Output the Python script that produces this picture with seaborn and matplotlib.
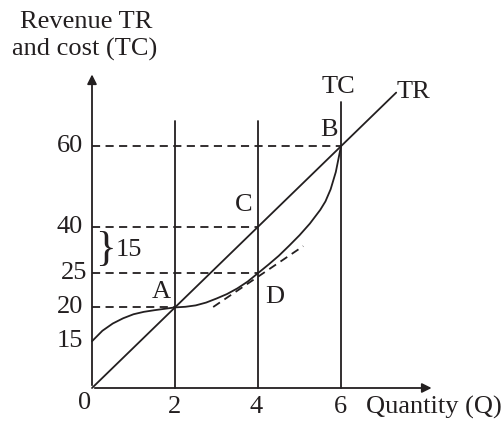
import matplotlib
matplotlib.use('Agg')
import matplotlib.pyplot as plt
import seaborn as sns
import pandas as pd

# the diagram is not drawn to scale: positions below are where things sit in the
# picture, the tick labels carry the printed numbers
tr_q = [0, 2, 4, 6, 7.33]
tr_val = [0, 20, 40, 60, 73.3]

tc_q = [0, 0.25, 0.5, 0.75, 1, 1.25, 1.5, 1.75, 2, 2.25, 2.5, 2.75, 3,
        3.25, 3.5, 3.75, 4, 4.25, 4.5, 4.75, 5, 5.25, 5.5, 5.625, 5.75,
        5.875, 6]
tc_val = [11.6, 14.2, 16.0, 17.3, 18.3, 18.9, 19.3, 19.65, 20, 20.15, 20.5,
          21.2, 22.2, 23.3, 24.7, 26.4, 28.5, 30.6, 32.8, 35.3, 37.9, 40.8,
          44.2, 46.3, 49.3, 53.6, 60]

tangent_q = [2.92, 5.09]
tangent_val = [20.1, 35.2]

vline_q = [2, 4, 6]
vline_top = [66.3, 66.3, 71]

hline_val = [60, 40, 28.5, 20]
hline_end = [6, 4, 4, 2]

ytick_pos = [60, 40, 28.5, 20, 11.6]
ytick_labels = ['60', '40', '25', '20', '15']
ytick_right = [-0.22, -0.22, -0.12, -0.2, -0.21]
xtick_pos = [2, 3.95, 5.98]
xtick_labels = ['2', '4', '6']

sns.set_style('white')
plt.rcParams['font.family'] = ['Liberation Serif', 'DejaVu Serif']

ink = '#231f20'
lw = 1.3
dash = (0, (4.5, 3))

fig = plt.figure(figsize=(5.03, 4.29), dpi=100)
ax = fig.add_axes([0, 0, 1, 1])
# Q=0 at x=92 px, 41.5 px per unit; value 0 at y=388 px, 4.03 px per unit
ax.set_xlim(-92 / 41.5, (503 - 92) / 41.5)
ax.set_ylim(-(429 - 388) / 4.03, 388 / 4.03)
ax.axis('off')

df_tr = pd.DataFrame({'Q': tr_q, 'val': tr_val})
df_tc = pd.DataFrame({'Q': tc_q, 'val': tc_val})
sns.lineplot(x='Q', y='val', data=df_tr, color=ink, lw=lw, ax=ax, sort=False)
sns.lineplot(x='Q', y='val', data=df_tc, color=ink, lw=lw, ax=ax, sort=False)

# tangent at D
ax.plot(tangent_q, tangent_val, color=ink, lw=lw, ls=dash)

# vertical lines at Q = 2, 4, 6
for q, top in zip(vline_q, vline_top):
    ax.plot([q, q], [0, top], color=ink, lw=lw)

# dashed guides
for v, end in zip(hline_val, hline_end):
    ax.plot([0, end], [v, v], color=ink, lw=lw, ls=dash)

# axes with arrow heads
ax.annotate('', xy=(8.25, 0), xytext=(0, 0),
            arrowprops=dict(arrowstyle='-|>', color=ink, lw=lw, mutation_scale=14))
ax.annotate('', xy=(0, 78.5), xytext=(0, 0),
            arrowprops=dict(arrowstyle='-|>', color=ink, lw=lw, mutation_scale=14))

fs = 19
for pos, lab, xr in zip(ytick_pos, ytick_labels, ytick_right):
    ax.text(xr, pos, lab, ha='right', va='center', fontsize=fs, color=ink)
ax.text(-0.19, -3.6, '0', ha='center', va='center', fontsize=fs, color=ink)
for q, lab in zip(xtick_pos, xtick_labels):
    ax.text(q, -4.8, lab, ha='center', va='center', fontsize=fs, color=ink)

ax.text(6.6, -4.9, 'Quantity (Q)', ha='left', va='center', fontsize=fs, color=ink)
ax.text(-0.15, 90.8, 'Revenue TR', ha='center', va='center', fontsize=fs, color=ink)
ax.text(-0.17, 83.9, 'and cost (TC)', ha='center', va='center', fontsize=fs, color=ink)

ax.text(5.95, 74.7, 'TC', ha='center', va='center', fontsize=fs, color=ink)
ax.text(7.75, 73.4, 'TR', ha='center', va='center', fontsize=fs, color=ink)
ax.text(5.71, 64, 'B', ha='center', va='center', fontsize=fs, color=ink)
ax.text(3.66, 45.4, 'C', ha='center', va='center', fontsize=fs, color=ink)
ax.text(1.66, 23.8, 'A', ha='center', va='center', fontsize=fs, color=ink)
ax.text(4.41, 22.6, 'D', ha='center', va='center', fontsize=fs, color=ink)

# brace with the gap 40 - 25
ax.text(0.33, 34.3, '}', ha='center', va='center', fontsize=31, color=ink)
ax.text(0.57, 34.3, '15', ha='left', va='center', fontsize=fs, color=ink)

plt.savefig('out.png', dpi=100)
